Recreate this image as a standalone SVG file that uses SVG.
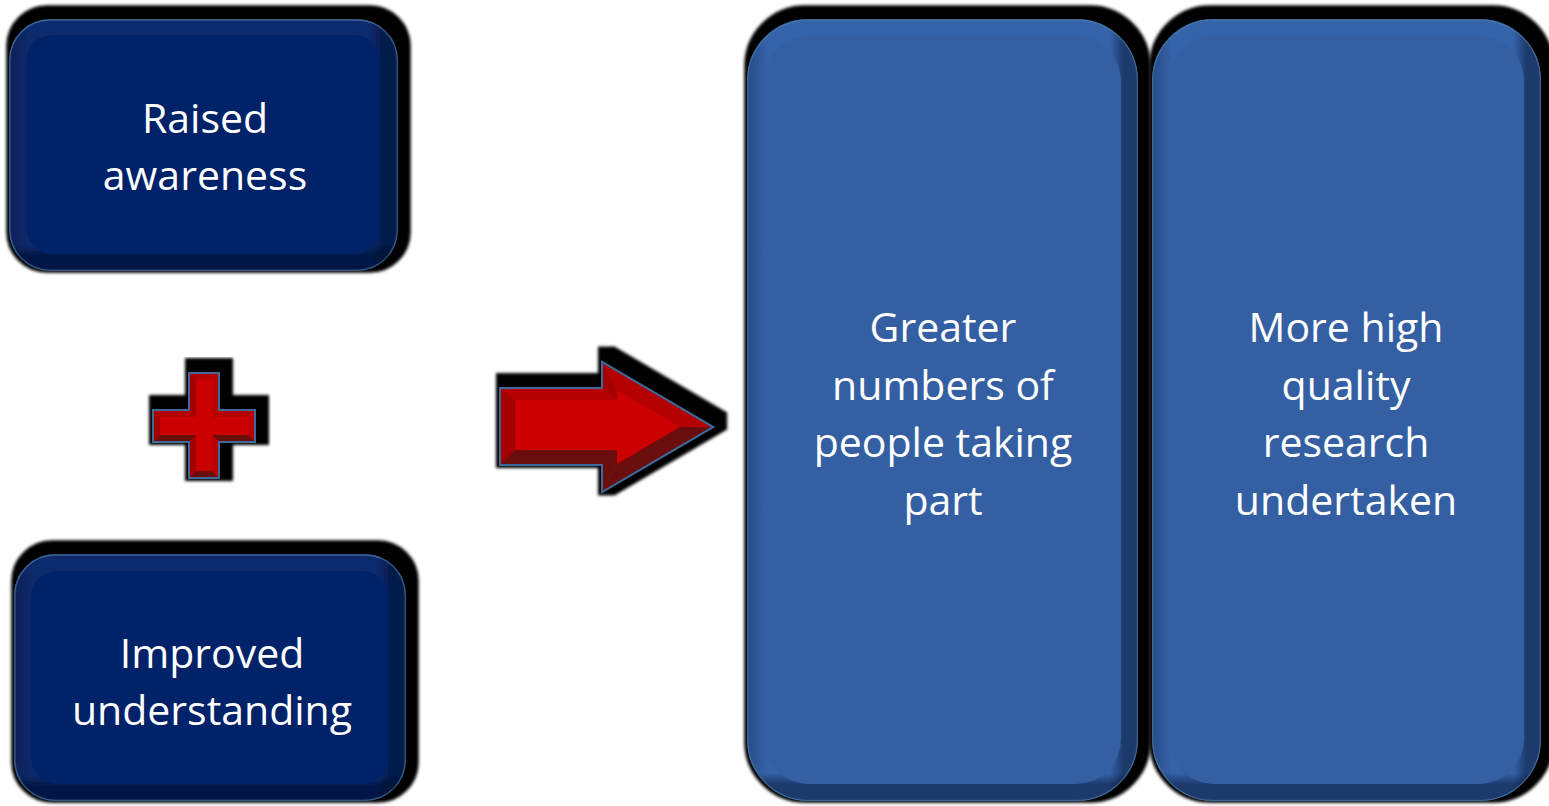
<svg xmlns="http://www.w3.org/2000/svg" width="1549" height="806" viewBox="0 0 1549 806">
<defs>
<filter id="sh" x="-15%" y="-15%" width="130%" height="130%">
<feMorphology in="SourceAlpha" operator="dilate" radius="8"/>
<feOffset dx="5" dy="-6"/>
<feGaussianBlur stdDeviation="1.5" result="s"/>
<feMerge><feMergeNode in="s"/><feMergeNode in="SourceGraphic"/></feMerge>
</filter>
<linearGradient id="hn" x1="0" y1="0" x2="1" y2="0">
<stop offset="0" stop-color="#000820" stop-opacity="0.25"/>
<stop offset="0.05" stop-color="#000820" stop-opacity="0"/>
<stop offset="0.93" stop-color="#000820" stop-opacity="0"/>
<stop offset="0.965" stop-color="#000820" stop-opacity="0.45"/>
<stop offset="1" stop-color="#000820" stop-opacity="0.45"/>
</linearGradient>
<linearGradient id="vs" x1="0" y1="0" x2="0" y2="1">
<stop offset="0" stop-color="#000820" stop-opacity="0"/>
<stop offset="0.9" stop-color="#000820" stop-opacity="0"/>
<stop offset="0.94" stop-color="#000820" stop-opacity="0.5"/>
<stop offset="1" stop-color="#000820" stop-opacity="0.5"/>
</linearGradient>
<linearGradient id="vt" x1="0" y1="0" x2="0" y2="1">
<stop offset="0" stop-color="#000820" stop-opacity="0"/>
<stop offset="0.965" stop-color="#000820" stop-opacity="0"/>
<stop offset="0.98" stop-color="#000820" stop-opacity="0.45"/>
<stop offset="1" stop-color="#000820" stop-opacity="0.45"/>
</linearGradient>
<style>
.t{font-family:"Open Sans","Noto Sans","Liberation Sans",sans-serif;font-size:41px;fill:#ffffff;text-anchor:middle}
.nout{fill:#0a2a6c;stroke:#3a6496;stroke-width:1.5}
.nface{fill:#062468}
.bout{fill:#3563aa;stroke:#4474aa;stroke-width:1.5}
.bface{fill:#365fa3}
.rface{fill:#cc0000}
.rtop{fill:#b40000}
.rleft{fill:#a40000}
.rright{fill:#bc0505}
.rbot{fill:#6b0b0b}
.rout{fill:none;stroke:#3d6a9a;stroke-width:2;stroke-linejoin:miter}
</style>
</defs>
<rect width="1549" height="806" fill="#ffffff"/>

<g id="raised-awareness">
<g filter="url(#sh)">
<rect class="nout" x="10" y="20" width="387" height="250" rx="40"/>
<rect fill="url(#hn)" x="10" y="20" width="387" height="250" rx="40"/>
<rect fill="url(#vs)" x="10" y="20" width="387" height="250" rx="40"/>
<rect class="nface" x="26" y="35" width="355" height="219" rx="26"/>
</g>
<text class="t" x="205" y="133">Raised</text>
<text class="t" x="205" y="190">awareness</text>
</g>

<g id="improved-understanding">
<g filter="url(#sh)">
<rect class="nout" x="15" y="555" width="390" height="245" rx="40"/>
<rect fill="url(#hn)" x="15" y="555" width="390" height="245" rx="40"/>
<rect fill="url(#vs)" x="15" y="555" width="390" height="245" rx="40"/>
<rect class="nface" x="31" y="571" width="358" height="213" rx="26"/>
</g>
<text class="t" x="212" y="668">Improved</text>
<text class="t" x="212" y="725">understanding</text>
</g>

<g id="plus">
<g filter="url(#sh)">
<polygon class="rface" points="189,373 219,373 219,410 255,410 255,442 219,442 219,478 189,478 189,442 153,442 153,410 189,410"/>
<polygon class="rtop" points="189,373 219,373 212,380 196,380"/>
<polygon class="rright" points="219,373 219,410 212,417 212,380"/>
<polygon class="rtop" points="219,410 255,410 248,417 212,417"/>
<polygon class="rright" points="255,410 255,442 248,435 248,417"/>
<polygon class="rbot" points="255,442 219,442 212,435 248,435"/>
<polygon class="rright" points="219,442 219,478 212,471 212,435"/>
<polygon class="rbot" points="219,478 189,478 196,471 212,471"/>
<polygon class="rleft" points="189,478 189,442 196,435 196,471"/>
<polygon class="rbot" points="189,442 153,442 160,435 196,435"/>
<polygon class="rleft" points="153,442 153,410 160,417 160,435"/>
<polygon class="rtop" points="153,410 189,410 196,417 160,417"/>
<polygon class="rleft" points="189,410 189,373 196,380 196,417"/>
<polygon class="rout" points="189,373 219,373 219,410 255,410 255,442 219,442 219,478 189,478 189,442 153,442 153,410 189,410"/>
</g>
</g>

<g id="connectors">
<g filter="url(#sh)">
<polygon class="rface" points="500,388 602,388 602,362 713,427 602,492 602,465 500,465"/>
<polygon class="rtop" points="500,388 602,388 617,400 515,400"/>
<polygon class="rleft" points="602,388 602,362 617,390 617,400"/>
<polygon class="rtop" points="602,362 713,427 680,427 617,390"/>
<polygon class="rbot" points="713,427 602,492 617,464 680,427"/>
<polygon class="rbot" points="602,492 602,465 617,450 617,464"/>
<polygon class="rbot" points="602,465 500,465 515,450 617,450"/>
<polygon class="rleft" points="500,465 500,388 515,400 515,450"/>
<polygon class="rout" points="500,388 602,388 602,362 713,427 602,492 602,465 500,465"/>
</g>
</g>

<g id="greater-numbers">
<g filter="url(#sh)">
<rect class="bout" x="748" y="20" width="389" height="780" rx="60"/>
<rect fill="url(#hn)" x="748" y="20" width="389" height="780" rx="60"/>
<rect fill="url(#vt)" x="748" y="20" width="389" height="780" rx="60"/>
<rect class="bface" x="764" y="36" width="357" height="748" rx="45"/>
</g>
<text class="t" x="943" y="342">Greater</text>
<text class="t" x="943" y="400">numbers of</text>
<text class="t" x="943" y="457">people taking</text>
<text class="t" x="943" y="515">part</text>
</g>

<g id="high-quality-research">
<g filter="url(#sh)">
<rect class="bout" x="1153" y="20" width="387" height="780" rx="60"/>
<rect fill="url(#hn)" x="1153" y="20" width="387" height="780" rx="60"/>
<rect fill="url(#vt)" x="1153" y="20" width="387" height="780" rx="60"/>
<rect class="bface" x="1169" y="36" width="355" height="748" rx="45"/>
</g>
<text class="t" x="1346" y="342">More high</text>
<text class="t" x="1346" y="400">quality</text>
<text class="t" x="1346" y="457">research</text>
<text class="t" x="1346" y="515">undertaken</text>
</g>
</svg>
